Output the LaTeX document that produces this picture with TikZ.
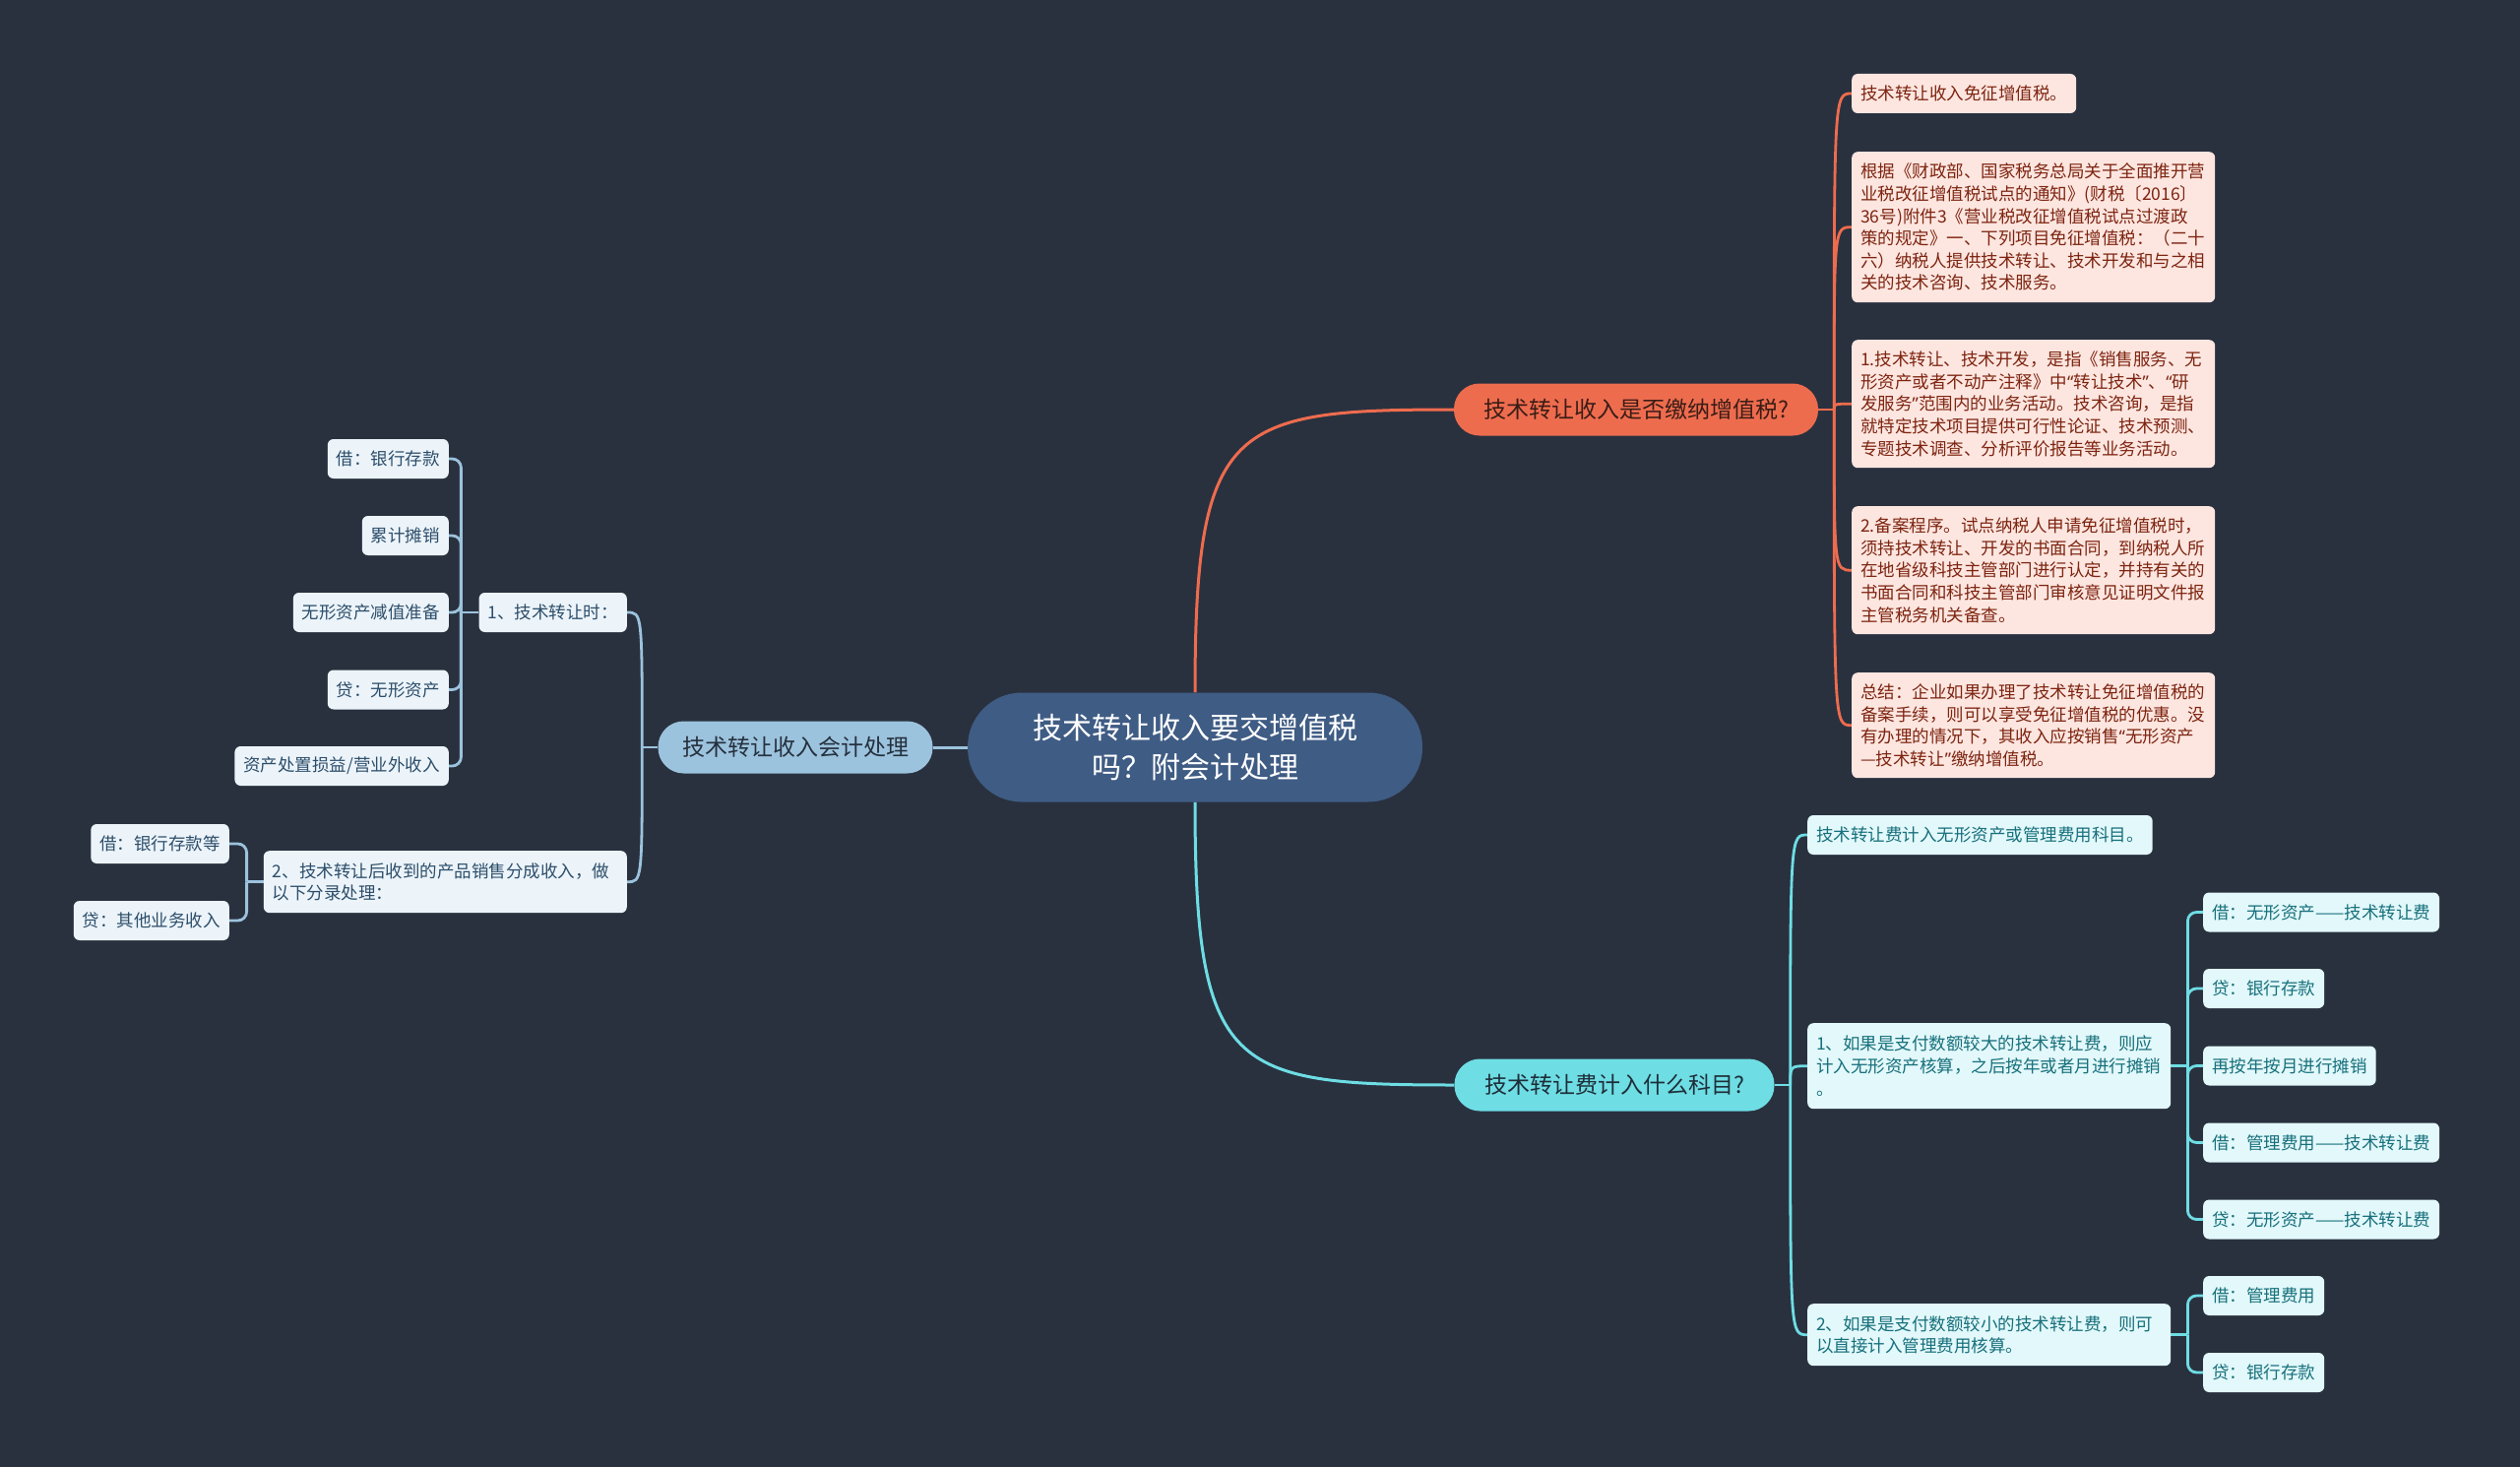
\documentclass[tikz,border=0pt]{standalone}
\usepackage{fontspec}
\setmainfont{Noto Sans CJK SC}
\newfontfamily\qfont{Noto Sans}
\newcommand\qo{{\qfont “}}
\newcommand\qc{{\qfont ”}}
\definecolor{cBg}{HTML}{29313F}
\definecolor{cRoot}{HTML}{3F5C84}
\definecolor{cO}{HTML}{EE6C4E}
\definecolor{cOtext}{HTML}{3A1D16}
\definecolor{cOleaf}{HTML}{FDE6E0}
\definecolor{cOleafText}{HTML}{7D2410}
\definecolor{cC}{HTML}{6EDDE4}
\definecolor{cCtext}{HTML}{1E2E38}
\definecolor{cCleaf}{HTML}{E2F8FA}
\definecolor{cCleafText}{HTML}{17707C}
\definecolor{cL}{HTML}{9CC3DD}
\definecolor{cLtext}{HTML}{25303E}
\definecolor{cLleaf}{HTML}{ECF4FA}
\definecolor{cLleafText}{HTML}{2D4E6A}
\pgfdeclarelayer{bglayer}
\pgfsetlayers{bglayer,main}
\begin{document}
\begin{tikzpicture}[x=1pt,y=-1pt,
  rootbox/.style={fill=cRoot, text=white, rounded corners=55pt, minimum width=462pt, minimum height=111pt, inner sep=0pt, font=\fontsize{30pt}{40pt}\selectfont, align=center},
  mainbox/.style={rounded corners=26pt, minimum height=53pt, inner sep=0pt, font=\fontsize{23pt}{28pt}\selectfont},
  obox/.style={mainbox, fill=cO, text=cOtext, minimum width=370pt},
  cbox/.style={mainbox, fill=cC, text=cCtext, minimum width=325pt},
  lbox/.style={mainbox, fill=cL, text=cLtext, minimum width=279pt},
  leaf/.style={rounded corners=6pt, inner xsep=9pt, inner ysep=0pt, minimum height=40pt, font=\fontsize{17.5pt}{22.6pt}\selectfont, align=left},
  oleaf/.style={leaf, fill=cOleaf, text=cOleafText},
  cleaf/.style={leaf, fill=cCleaf, text=cCleafText},
  lleaf/.style={leaf, fill=cLleaf, text=cLleafText},
  oline/.style={draw=cO, line width=2.8pt},
  cline/.style={draw=cC, line width=2.8pt},
  lline/.style={draw=cL, line width=2.8pt},
]
\useasboundingbox (0,0) rectangle (2560,1490);

% main nodes
\node[rootbox] (root) at (1214,759) {技术转让收入要交增值税\\吗？附会计处理};
\node[obox] (ob) at (1662,416) {技术转让收入是否缴纳增值税?};
\node[cbox] (cb) at (1640,1102) {技术转让费计入什么科目?};
\node[lbox] (lb) at (808,759) {技术转让收入会计处理};

% orange leaves
\node[oleaf, anchor=west] (o1) at (1881,95) {技术转让收入免征增值税。};
\node[oleaf, anchor=north west, text width=351pt, minimum height=153pt] (o2) at (1881,154) {根据《财政部、国家税务总局关于全面推开营\\业税改征增值税试点的通知》(财税〔2016〕\\36号)附件3《营业税改征增值税试点过渡政\\策的规定》一、下列项目免征增值税：（二十\\六）纳税人提供技术转让、技术开发和与之相\\关的技术咨询、技术服务。};
\node[oleaf, anchor=north west, text width=351pt, minimum height=130pt] (o3) at (1881,345) {1.技术转让、技术开发，是指《销售服务、无\\形资产或者不动产注释》中\qo 转让技术\qc 、\qo 研\\发服务\qc 范围内的业务活动。技术咨询，是指\\就特定技术项目提供可行性论证、技术预测、\\专题技术调查、分析评价报告等业务活动。};
\node[oleaf, anchor=north west, text width=351pt, minimum height=130pt] (o4) at (1881,514) {2.备案程序。试点纳税人申请免征增值税时，\\须持技术转让、开发的书面合同，到纳税人所\\在地省级科技主管部门进行认定，并持有关的\\书面合同和科技主管部门审核意见证明文件报\\主管税务机关备查。};
\node[oleaf, anchor=north west, text width=351pt, minimum height=107pt] (o5) at (1881,683) {总结：企业如果办理了技术转让免征增值税的\\备案手续，则可以享受免征增值税的优惠。没\\有办理的情况下，其收入应按销售\qo 无形资产\\—技术转让\qc 缴纳增值税。};

% cyan leaves
\node[cleaf, anchor=west] (c1) at (1836,848) {技术转让费计入无形资产或管理费用科目。};
\node[cleaf, anchor=north west, text width=351pt, minimum height=87pt] (c2) at (1836,1039) {1、如果是支付数额较大的技术转让费，则应\\计入无形资产核算，之后按年或者月进行摊销\\。};
\node[cleaf, anchor=north west, text width=351pt, minimum height=63pt] (c3) at (1836,1324) {2、如果是支付数额较小的技术转让费，则可\\以直接计入管理费用核算。};
\node[cleaf, anchor=west] (s1) at (2238,926.5) {借：无形资产——技术转让费};
\node[cleaf, anchor=west] (s2) at (2238,1004) {贷：银行存款};
\node[cleaf, anchor=west] (s3) at (2238,1082.5) {再按年按月进行摊销};
\node[cleaf, anchor=west] (s4) at (2238,1160.5) {借：管理费用——技术转让费};
\node[cleaf, anchor=west] (s5) at (2238,1238.5) {贷：无形资产——技术转让费};
\node[cleaf, anchor=west] (s6) at (2238,1316) {借：管理费用};
\node[cleaf, anchor=west] (s7) at (2238,1394) {贷：银行存款};

% left leaves
\node[lleaf, anchor=east] (l6) at (637,622) {1、技术转让时：};
\node[lleaf, anchor=north east, text width=351pt, minimum height=63pt] (l7) at (637,864) {2、技术转让后收到的产品销售分成收入，做\\以下分录处理：};
\node[lleaf, anchor=east] (l1) at (456,466) {借：银行存款};
\node[lleaf, anchor=east] (l2) at (456,544) {累计摊销};
\node[lleaf, anchor=east] (l3) at (456,622) {无形资产减值准备};
\node[lleaf, anchor=east] (l4) at (456,700.5) {贷：无形资产};
\node[lleaf, anchor=east] (l5) at (456,778) {资产处置损益/营业外收入};
\node[lleaf, anchor=east] (l8) at (233,857) {借：银行存款等};
\node[lleaf, anchor=east] (l9) at (233,935) {贷：其他业务收入};

\begin{pgfonlayer}{bglayer}
\fill[cBg] (0,0) rectangle (2560,1490);
% root connectors
\draw[oline, line width=3pt] (root.north) .. controls +(0,-273) and +(-227,0) .. (ob.west);
\draw[cline, line width=3pt] (root.south) .. controls +(0,273) and +(-227,0) .. (cb.west);
\draw[lline, line width=3pt] (root.west) -- (lb.east);
% orange fan
\draw[oline] (ob.east) -- ++(16,0) coordinate (of);
\foreach \n in {o1,o2,o3,o4,o5}
  \draw[oline] (of) .. controls (of |- \n.west) .. (\n.west);
% cyan fan
\draw[cline] (cb.east) -- ++(16,0) coordinate (cf);
\foreach \n in {c1,c2,c3}
  \draw[cline] (cf) .. controls (cf |- \n.west) .. (\n.west);
\draw[cline] (c2.east) -- ++(17,0) coordinate (ct);
\foreach \n in {s1,s2,s3,s4,s5}
  \draw[cline, rounded corners=9pt] (ct) |- (\n.west);
\draw[cline] (c3.east) -- ++(17,0) coordinate (ct2);
\foreach \n in {s6,s7}
  \draw[cline, rounded corners=9pt] (ct2) |- (\n.west);
% left fan
\draw[lline] (lb.west) -- ++(-16,0) coordinate (lf);
\foreach \n in {l6,l7}
  \draw[lline] (lf) .. controls (lf |- \n.east) .. (\n.east);
\draw[lline] (l6.west) -- ++(-18,0) coordinate (lt);
\foreach \n in {l1,l2,l3,l4,l5}
  \draw[lline, rounded corners=9pt] (lt) |- (\n.east);
\draw[lline] (l7.west) -- ++(-17,0) coordinate (lt2);
\foreach \n in {l8,l9}
  \draw[lline, rounded corners=9pt] (lt2) |- (\n.east);
\end{pgfonlayer}
\end{tikzpicture}
\end{document}
